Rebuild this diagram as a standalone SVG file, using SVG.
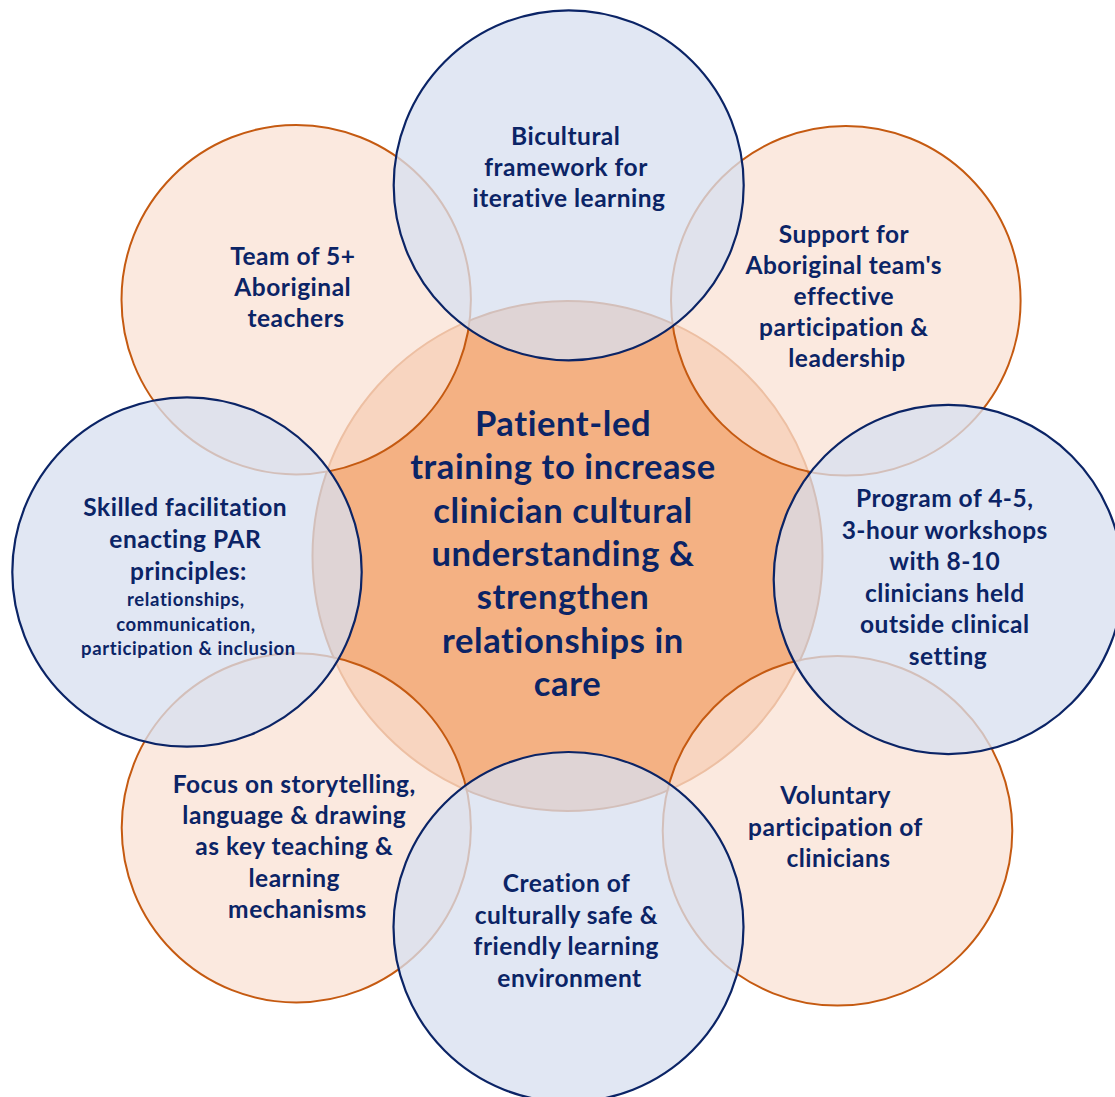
<svg xmlns="http://www.w3.org/2000/svg" width="1115" height="1097" viewBox="0 0 1115 1097">
  <style>
    .core { fill: #F4B183; stroke: #C55A11; stroke-width: 2; }
    .warm { fill: #FAE2D4; fill-opacity: 0.75; stroke: #C55A11; stroke-width: 2; }
    .cool { fill: #D8DFEF; fill-opacity: 0.76; stroke: #0B2466; stroke-width: 2.2; }
    text { font-family: Lato, "Liberation Sans", sans-serif; font-weight: 700; fill: #0B2466; text-anchor: middle; }
    .lbl { font-size: 24.5px; letter-spacing: 0.5px; }
    .small { font-size: 18.5px; letter-spacing: 0.6px; }
    .main { font-size: 34.5px; letter-spacing: 0.6px; }
  </style>
  <rect width="1115" height="1097" fill="#FFFFFF"/>
  <g id="connectors"></g>

  <!-- central goal -->
  <g id="node-centre">
    <circle class="core" cx="567.5" cy="556" r="255"/>
    <text class="main">
      <tspan x="567.5" y="436">Patient-led</tspan>
      <tspan x="567.5" y="479.3">training to increase</tspan>
      <tspan x="567.5" y="522.7">clinician cultural</tspan>
      <tspan x="567.5" y="566">understanding &amp;</tspan>
      <tspan x="567.5" y="609.3">strengthen</tspan>
      <tspan x="567.5" y="652.7">relationships in</tspan>
      <tspan x="567.5" y="696">care</tspan>
    </text>
  </g>

  <!-- warm (orange) satellites -->
  <g id="node-team">
    <circle class="warm" cx="296.2" cy="299.7" r="174.7"/>
    <text class="lbl">
      <tspan x="296" y="265">Team of 5+</tspan>
      <tspan x="296" y="296">Aboriginal</tspan>
      <tspan x="296" y="327">teachers</tspan>
    </text>
  </g>
  <g id="node-support">
    <circle class="warm" cx="845.8" cy="300.8" r="174.8"/>
    <text class="lbl">
      <tspan x="847" y="243">Support for</tspan>
      <tspan x="847" y="274">Aboriginal team's</tspan>
      <tspan x="847" y="305">effective</tspan>
      <tspan x="847" y="336">participation &amp;</tspan>
      <tspan x="847" y="367">leadership</tspan>
    </text>
  </g>
  <g id="node-storytelling">
    <circle class="warm" cx="296.3" cy="827.8" r="174.6"/>
    <text class="lbl">
      <tspan x="297.5" y="793">Focus on storytelling,</tspan>
      <tspan x="297.5" y="824">language &amp; drawing</tspan>
      <tspan x="297.5" y="855">as key teaching &amp;</tspan>
      <tspan x="297.5" y="887">learning</tspan>
      <tspan x="297.5" y="918">mechanisms</tspan>
    </text>
  </g>
  <g id="node-voluntary">
    <circle class="warm" cx="837.5" cy="830.8" r="174.8"/>
    <text class="lbl">
      <tspan x="838.5" y="804">Voluntary</tspan>
      <tspan x="838.5" y="835.5">participation of</tspan>
      <tspan x="838.5" y="867">clinicians</tspan>
    </text>
  </g>

  <!-- cool (blue) satellites -->
  <g id="node-bicultural">
    <circle class="cool" cx="568.7" cy="185.3" r="175"/>
    <text class="lbl">
      <tspan x="569" y="145">Bicultural</tspan>
      <tspan x="569" y="176">framework for</tspan>
      <tspan x="569" y="207">iterative learning</tspan>
    </text>
  </g>
  <g id="node-facilitation">
    <circle class="cool" cx="187" cy="572" r="174.7"/>
    <text class="lbl">
      <tspan x="188.5" y="516">Skilled facilitation</tspan>
      <tspan x="188.5" y="548">enacting PAR</tspan>
      <tspan x="188.5" y="580">principles:</tspan>
    </text>
    <text class="small">
      <tspan x="188.5" y="606">relationships,</tspan>
      <tspan x="188.5" y="631">communication,</tspan>
      <tspan x="188.5" y="655">participation &amp; inclusion</tspan>
    </text>
  </g>
  <g id="node-program">
    <circle class="cool" cx="948.3" cy="579.5" r="174.6"/>
    <text class="lbl">
      <tspan x="948" y="507">Program of 4-5,</tspan>
      <tspan x="948" y="538.6">3-hour workshops</tspan>
      <tspan x="948" y="570.2">with 8-10</tspan>
      <tspan x="948" y="601.8">clinicians held</tspan>
      <tspan x="948" y="633.4">outside clinical</tspan>
      <tspan x="948" y="665">setting</tspan>
    </text>
  </g>
  <g id="node-environment">
    <circle class="cool" cx="568.5" cy="927" r="175"/>
    <text class="lbl">
      <tspan x="569.5" y="892">Creation of</tspan>
      <tspan x="569.5" y="923.5">culturally safe &amp;</tspan>
      <tspan x="569.5" y="955">friendly learning</tspan>
      <tspan x="569.5" y="986.5">environment</tspan>
    </text>
  </g>
</svg>
